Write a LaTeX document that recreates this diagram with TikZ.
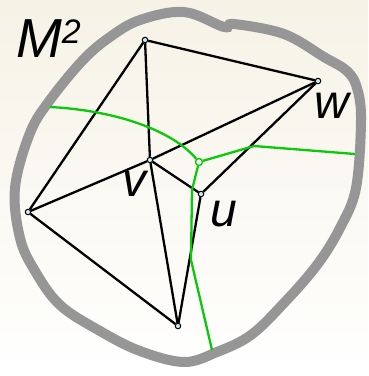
\documentclass[tikz,border=0pt]{standalone}
\usepackage{fontspec}
\setmainfont{Liberation Sans}
\usetikzlibrary{positioning,calc}
\definecolor{rim}{RGB}{150,150,150}
\definecolor{cell}{RGB}{10,200,10}
\definecolor{dot}{RGB}{200,235,240}
\tikzset{
  vert/.style={circle, draw, fill=dot, inner sep=0pt, minimum size=5.5pt, line width=1pt},
  seed/.style={circle, draw=cell, fill=white, inner sep=0pt, minimum size=7pt, line width=1.4pt},
  lbl/.style={font=\fontsize{48}{48}\selectfont\itshape},
}

\begin{document}
\begin{tikzpicture}[x=1pt, y=-1pt, line width=2.3pt]
    \useasboundingbox (0,0) rectangle (368,376);
    \fill[top color={rgb,255:red,246;green,242;blue,230}, bottom color=white] (0,0) rectangle (368,376);
    % ---- the surface
    \draw[rim, line width=10pt] plot[smooth cycle, tension=0.6] coordinates {
      (184,12) (224,27) (234,24) (284,34) (324,57) (347,71) (357,88) (361,120)
      (356,188) (340,228) (317,265) (284,303) (251,335) (217,352) (184,362)
      (140,351) (100,331) (60,305) (35,271) (20,238) (15,188) (30,133)
      (50,100) (83,60) (110,37) (140,20)};
    \node[lbl, font=\fontsize{55}{55}\selectfont\itshape, anchor=north west, inner sep=0pt] (m) at (15,19)
      {M\raisebox{14pt}{\fontsize{34}{34}\selectfont 2}};
    % ---- triangulation
    \node[vert] (t) at (145,40) {};
    \node[vert] (w) at (318,81) {};
    \node[vert] (v) at (150,160) {};
    \node[vert] (u) at (201,194) {};
    \node[vert] (l) at (28,212) {};
    \node[vert] (b) at (178,326) {};
    \foreach \u/\v in {t/w,t/l,t/v,v/b,v/w,v/l,v/u,u/w,u/b,l/b} { \draw (\u) -- (\v); }
    % ---- cells (green)
    \node[seed] (g) at (199,162) {};
    \coordinate (c1) at (50,107);
    \coordinate (c2) at (355,154);
    \coordinate (c3) at (212,350);
    \draw[cell] (c1) .. controls (110,110) and (170,128) .. (g);
    \draw[cell] (g) -- (254,146) -- (c2);
    \draw[cell] (g) -- (192,190) -- (191,260) -- (c3);
    % ---- labels
    \node[lbl] (lv) at (135,184) {v};
    \node[lbl] (lw) at (332,106) {w};
    \node[lbl] (lu) at (224,214) {u};
\end{tikzpicture}
\end{document}
